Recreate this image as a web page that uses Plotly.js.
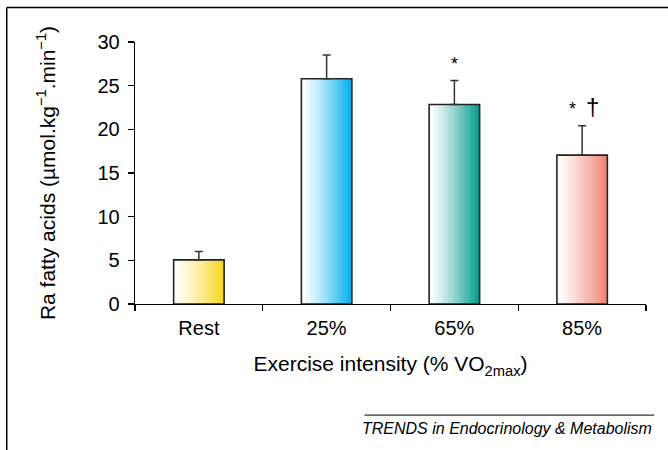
<!DOCTYPE html>
<html>
<head>
<meta charset="utf-8">
<script src="https://cdn.plot.ly/plotly-3.0.1.min.js"></script>
<style>html,body{margin:0;padding:0;background:#fff;}#chart{width:668px;height:450px;}</style>
</head>
<body>
<div id="chart"></div>
<script>
// ---- data ----
var categories = ['Rest', '25%', '65%', '85%'];
var raValues = [5.05, 25.8, 22.85, 17.05];
var raErrors = [0.95, 2.7, 2.75, 3.35];
var sigMarks = ['', '', '*', '*  <span style="font-size:24px">†</span>'];
var barEndColors = ['#F6D51C', '#00AEEF', '#00998B', '#EF7F6F'];
var yTicks = [0, 5, 10, 15, 20, 25, 30];

// ---- styling helpers ----
var FONT = 'Liberation Sans';
var BAR_WIDTH = 0.395;
var N_STRIPS = 30;

function hexToRgb(h) {
  return [parseInt(h.substr(1,2),16), parseInt(h.substr(3,2),16), parseInt(h.substr(5,2),16)];
}
function mix(hex, t) {
  var c = hexToRgb(hex);
  var r = Math.round(255 + (c[0]-255)*t);
  var g = Math.round(255 + (c[1]-255)*t);
  var b = Math.round(255 + (c[2]-255)*t);
  return 'rgb(' + r + ',' + g + ',' + b + ')';
}

var traces = [];
var stripW = BAR_WIDTH / N_STRIPS;
for (var i = 0; i < N_STRIPS; i++) {
  var t = Math.pow((i + 0.5) / N_STRIPS, 1.25);
  traces.push({
    type: 'bar',
    x: categories,
    y: raValues,
    width: Math.min(stripW * 1.6, BAR_WIDTH - i * stripW),
    offset: -BAR_WIDTH / 2 + i * stripW,
    marker: { color: barEndColors.map(function (c) { return mix(c, t); }), line: { width: 0 } },
    hoverinfo: 'skip',
    showlegend: false
  });
}
// outline + error bars
traces.push({
  type: 'bar',
  x: categories,
  y: raValues,
  width: BAR_WIDTH,
  offset: -BAR_WIDTH / 2,
  marker: { color: 'rgba(0,0,0,0)', line: { color: '#222', width: 1.6 } },
  error_y: { type: 'data', symmetric: false, array: raErrors, arrayminus: raErrors.map(function(){return 0;}), color: '#333', thickness: 1.5, width: 4 },
  showlegend: false
});

var annotations = [];
categories.forEach(function (c, k) {
  if (sigMarks[k]) {
    annotations.push({
      x: c, y: raValues[k] + raErrors[k], xref: 'x', yref: 'y',
      text: sigMarks[k], showarrow: false, yanchor: 'bottom', yshift: 4,
      xshift: k === 3 ? 2 : 0,
      font: { family: FONT, size: 18, color: '#000' }
    });
  }
});
annotations.push({
  xref: 'paper', yref: 'paper', x: 1.016, y: -0.434, xanchor: 'right', yanchor: 'top',
  text: '<i>TRENDS in Endocrinology &amp; Metabolism</i>', showarrow: false,
  font: { family: FONT, size: 16, color: '#000' }
});

var layout = {
  width: 668, height: 450,
  margin: { l: 135, r: 22, t: 42, b: 146 },
  paper_bgcolor: '#fff', plot_bgcolor: '#fff',
  barmode: 'overlay',
  bargap: 0,
  font: { family: FONT, color: '#000' },
  xaxis: {
    type: 'category', range: [-0.5, 3.5],
    tickson: 'boundaries', ticks: 'outside', ticklen: 6, tickcolor: '#000', tickwidth: 1.3,
    showline: true, linecolor: '#000', linewidth: 1.3,
    showgrid: false, zeroline: false,
    ticklabelstandoff: 6,
    tickfont: { family: FONT, size: 20, color: '#000' },
    title: { text: 'Exercise intensity (% VO<sub>2max</sub>)', font: { family: FONT, size: 21, color: '#000' }, standoff: 18 }
  },
  yaxis: {
    range: [0, 30], tickvals: yTicks,
    ticks: 'outside', ticklen: 6, tickcolor: '#000', tickwidth: 1.3,
    showline: true, linecolor: '#000', linewidth: 1.3,
    showgrid: false, zeroline: false,
    ticklabelstandoff: 4,
    tickfont: { family: FONT, size: 20, color: '#000' },
    title: { text: 'Ra fatty acids (µmol.kg<sup>−1</sup>.min<sup>−1</sup>)', font: { family: FONT, size: 21, color: '#000' }, standoff: 36 }
  },
  shapes: [
    { type: 'line', xref: 'paper', yref: 'paper', x0: -0.251, x1: -0.251, y0: 1.132, y1: -0.6, line: { color: '#000', width: 1.5 } },
    { type: 'line', xref: 'paper', yref: 'paper', x0: -0.251, x1: 1.1, y0: 1.132, y1: 1.132, line: { color: '#000', width: 1.5 } },
    { type: 'line', xref: 'paper', yref: 'paper', x0: 0.449, x1: 1.016, y0: -0.424, y1: -0.424, line: { color: '#000', width: 1 } }
  ],
  annotations: annotations
};

Plotly.newPlot('chart', traces, layout, { displayModeBar: false, staticPlot: true });
</script>
</body>
</html>
